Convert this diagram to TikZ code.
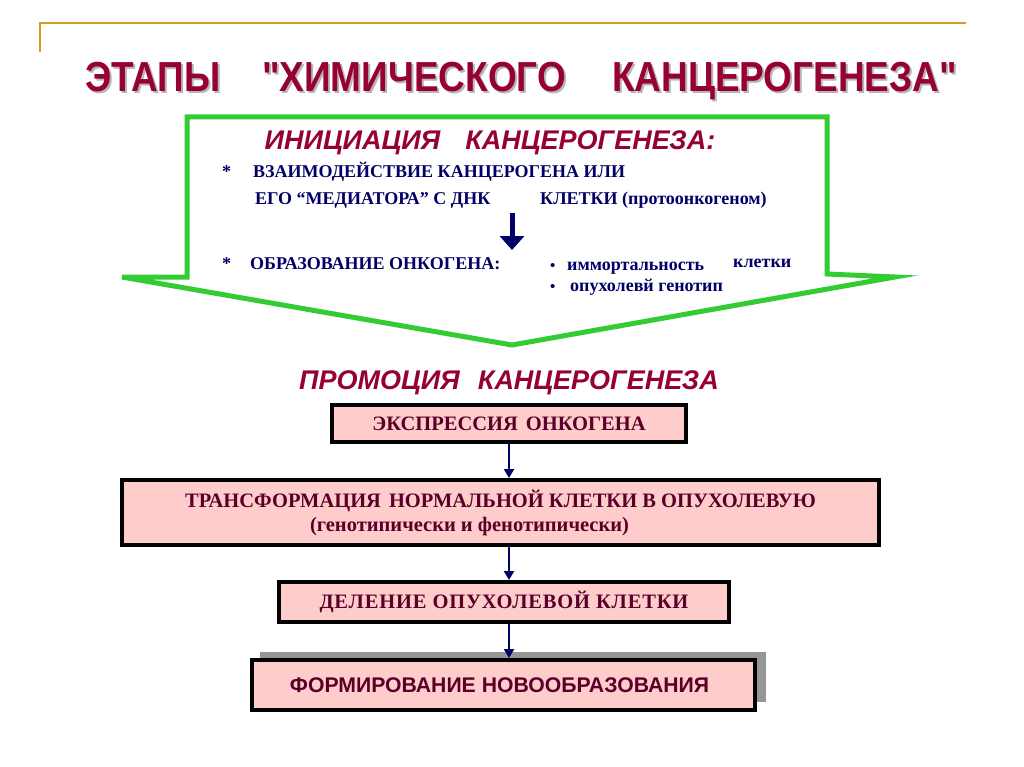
\documentclass[tikz,border=0pt]{standalone}
\usepackage{fontspec}
\setmainfont{Liberation Serif}
\newfontfamily\sansf{Liberation Sans}
\newfontfamily\narrowf{Liberation Sans}[FakeStretch=0.88]
\usetikzlibrary{arrows.meta}
\definecolor{titlered}{RGB}{150,0,50}
\definecolor{goldline}{RGB}{214,160,30}
\definecolor{arrowgreen}{RGB}{51,204,51}
\definecolor{navytext}{RGB}{0,0,102}
\definecolor{boxfill}{RGB}{255,204,204}
\definecolor{boxtext}{RGB}{90,0,40}
\definecolor{shadowgrey}{RGB}{150,150,150}
\tikzset{
  titletext/.style={font=\narrowf\bfseries\fontsize{42}{46}\selectfont, inner sep=0, anchor=base west},
  headtext/.style={font=\sansf\bfseries\itshape\fontsize{27}{30}\selectfont, text=titlered, inner sep=0, anchor=base},
  inner/.style={font=\bfseries\fontsize{18}{21}\selectfont, text=navytext, inner sep=0, anchor=base west},
  stagebox/.style={draw=black, line width=4, fill=boxfill, text=boxtext, inner sep=0, align=center,
     font=\bfseries\fontsize{20.5}{24}\selectfont},
  conn/.style={draw=navytext, line width=2.8, -{Triangle[length=9,width=10]}},
}
\begin{document}
\begin{tikzpicture}[x=1pt,y=-1pt]
\useasboundingbox (0,0) rectangle (1024,767);
\fill[white] (0,0) rectangle (1024,767);
% gold frame line
\draw[goldline, line width=2.5] (40,52) -- (40,23) -- (966,23);
% title with shadow
\node[titletext, text=shadowgrey!70] (ts1) at (87,94) {ЭТАПЫ};
\node[titletext, text=shadowgrey!70] (ts2) at (264,94) {"ХИМИЧЕСКОГО};
\node[titletext, text=shadowgrey!70] (ts3) at (614,94) {КАНЦЕРОГЕНЕЗА"};
\node[titletext, text=titlered] (t1) at (85,92) {ЭТАПЫ};
\node[titletext, text=titlered] (t2) at (262,92) {"ХИМИЧЕСКОГО};
\node[titletext, text=titlered] (t3) at (612,92) {КАНЦЕРОГЕНЕЗА"};
% green arrow
\draw[arrowgreen, line width=5, line join=miter] (187,117) -- (827,117) -- (827,274) -- (895,277) -- (512,345) -- (122,277) -- (187,277) -- cycle;
% initiation
\node[headtext] (inihead) at (490,150) {ИНИЦИАЦИЯ\hspace{25pt}КАНЦЕРОГЕНЕЗА:};
\node[inner] (star1) at (222,178) {*};
\node[inner] (l1) at (253,178) {ВЗАИМОДЕЙСТВИЕ КАНЦЕРОГЕНА ИЛИ};
\node[inner] (l2a) at (255,205) {ЕГО “МЕДИАТОРА” С ДНК};
\node[inner] (l2b) at (540,205) {КЛЕТКИ (протоонкогеном)};
\coordinate (arrtop) at (512,213);
\coordinate (arrbot) at (512,250);
\draw[navytext, line width=5, -{Triangle[length=14,width=24]}] (arrtop) -- (arrbot);
\node[inner] (star2) at (222,269) {*};
\node[inner] (l3) at (250,269) {ОБРАЗОВАНИЕ ОНКОГЕНА:};
\node[inner] (b1) at (550,270) {\fontsize{15}{16}\selectfont •};
\node[inner] (l4) at (567,270) {иммортальность};
\node[inner] (l4b) at (733,267) {клетки};
\node[inner] (b2) at (550,291) {\fontsize{15}{16}\selectfont •};
\node[inner] (l5) at (570,291) {опухолевй генотип};
% promotion
\node[headtext] (promhead) at (509,389) {ПРОМОЦИЯ\hspace{18pt}КАНЦЕРОГЕНЕЗА};
\node[stagebox, minimum width=354, minimum height=37] (box1) at (509,423.5) {ЭКСПРЕССИЯ\hspace{8pt}ОНКОГЕНА};
\node[stagebox, minimum width=757, minimum height=65] (box2) at (500.5,512.5) {ТРАНСФОРМАЦИЯ\hspace{8pt}НОРМАЛЬНОЙ КЛЕТКИ В ОПУХОЛЕВУЮ\\\hspace{-62pt}(генотипически и фенотипически)};
\node[stagebox, minimum width=450, minimum height=40] (box3) at (504,602) {\addfontfeature{LetterSpace=4}ДЕЛЕНИЕ\hspace{6pt}ОПУХОЛЕВОЙ\hspace{6pt}КЛЕТКИ};
\fill[shadowgrey] (260,652) rectangle (766,702);
\node[stagebox, minimum width=503, minimum height=50, font=\sansf\bfseries\fontsize{21.2}{24}\selectfont] (box4) at (503.5,685) {ФОРМИРОВАНИЕ\hspace{6pt}НОВООБРАЗОВАНИЯ\hspace{8pt}};
\draw[conn] (box1.south) -- (box1.south |- box2.north);
\draw[conn] (box1.south |- box2.south) -- (box1.south |- box3.north);
\draw[conn] (box1.south |- box3.south) -- (box1.south |- box4.north);
\end{tikzpicture}
\end{document}
